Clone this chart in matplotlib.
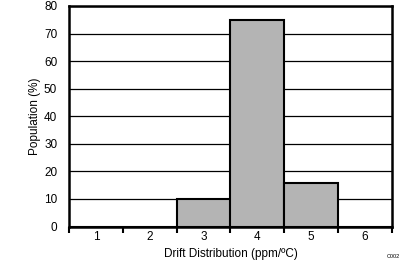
import matplotlib
matplotlib.use("Agg")
import matplotlib.pyplot as plt
import numpy as np

categories = ["1", "2", "3", "4", "5", "6"]
population = [0, 0, 10, 75, 15.8, 0]
yticks = [0, 10, 20, 30, 40, 50, 60, 70, 80]

plt.rcParams['font.family'] = ['Liberation Sans', 'DejaVu Sans']

fig = plt.figure(figsize=(4.07, 2.67), dpi=100)
ax = fig.add_axes([69/407, 1-226.5/267, (392-69)/407, (226.5-6)/267])

x = np.arange(len(categories))
ax.set_axisbelow(True)
ax.yaxis.grid(True, color='black', linewidth=0.9)
ax.bar(x, population, width=1.0, color='#b4b4b4', edgecolor='black', linewidth=1.5, zorder=3)

ax.set_xlim(-0.5, len(categories) - 0.5)
ax.set_ylim(0, 80)
ax.set_yticks(yticks)
ax.set_yticklabels([str(v) for v in yticks], fontsize=8.5)
ax.tick_params(axis='y', length=0, pad=8.5)
ax.set_xticks(x)
ax.set_xticklabels(categories, fontsize=8.5)
ax.tick_params(axis='x', which='major', length=0, pad=3)
ax.set_xticks(np.arange(-0.5, len(categories)), minor=True)
ax.tick_params(axis='x', which='minor', length=4, width=1.5, direction='out')

for s in ax.spines.values():
    s.set_linewidth(1.8)

ax.set_xlabel("Drift Distribution (ppm/ºC)", fontsize=8.5, labelpad=4)
ax.set_ylabel("Population (%)", fontsize=8.5, labelpad=2)

fig.text(393/407, 1-257/267, "C002", fontsize=4, ha='center', va='center')

fig.savefig("out.png", dpi=100)
